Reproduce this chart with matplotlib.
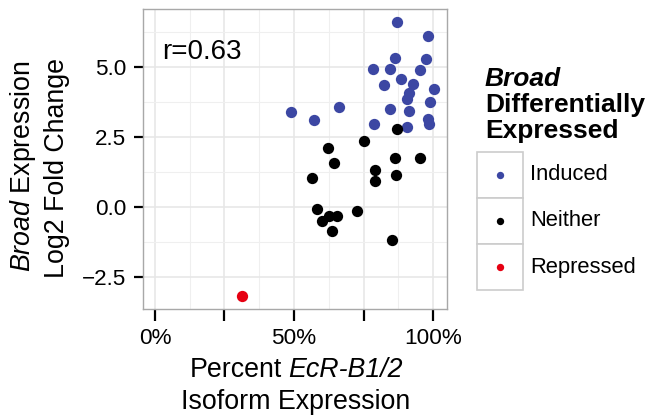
import matplotlib
matplotlib.use("Agg")
import matplotlib.pyplot as plt
from matplotlib.patches import Rectangle

plt.rcParams['font.family'] = ['Liberation Sans', 'DejaVu Sans']
plt.rcParams['mathtext.fontset'] = 'custom'
plt.rcParams['mathtext.rm'] = 'Liberation Sans'
plt.rcParams['mathtext.it'] = 'Liberation Sans:italic'
plt.rcParams['mathtext.bf'] = 'Liberation Sans:bold'

# Percent EcR-B1/2 isoform expression vs Broad log2 fold change
pct_induced = [87.1, 98.2, 86.4, 97.4, 78.5, 84.5, 95.4, 88.6, 82.4, 92.9, 100.3, 91.3,
               90.6, 98.9, 48.9, 66.1, 57.1, 84.5, 91.3, 78.7, 90.6, 98.1, 98.5]
fc_induced = [6.60, 6.12, 5.33, 5.28, 4.92, 4.93, 4.90, 4.56, 4.36, 4.40, 4.20, 4.06,
              3.86, 3.76, 3.38, 3.56, 3.10, 3.49, 3.43, 2.95, 2.86, 3.14, 2.95]

pct_neither = [86.9, 75.0, 62.1, 86.4, 95.3, 64.3, 79.2, 56.5, 86.7, 79.0, 58.3, 72.6,
               62.5, 65.6, 60.0, 63.7, 85.1]
fc_neither = [2.79, 2.34, 2.09, 1.76, 1.74, 1.56, 1.33, 1.03, 1.15, 0.94, -0.06, -0.14,
              -0.32, -0.33, -0.49, -0.87, -1.17]

pct_repressed = [31.3]
fc_repressed = [-3.17]

categories = ['Induced', 'Neither', 'Repressed']
colors = ['#3c47a3', '#000000', '#e60012']
series = [(pct_induced, fc_induced), (pct_neither, fc_neither), (pct_repressed, fc_repressed)]

x_ticks = [0, 25, 50, 75, 100]
x_ticklabels = ['0%', '', '50%', '', '100%']
y_ticks = [-2.5, 0.0, 2.5, 5.0]
y_ticklabels = ['\u22122.5', '0.0', '2.5', '5.0']
r_text = 'r=0.63'

W, H = 647, 418
fig = plt.figure(figsize=(W / 100, H / 100), dpi=100)

# overlay in pixel coordinates for labels and legend
ov = fig.add_axes([0, 0, 1, 1])
ov.set_xlim(0, W)
ov.set_ylim(H, 0)
ov.axis('off')

# main panel
left, right, top, bottom = 143, 447, 9, 309
ax = fig.add_axes([left / W, 1 - bottom / H, (right - left) / W, (bottom - top) / H])
for (xs, ys), c in zip(series, colors):
    ax.scatter(xs, ys, s=66, color=c, linewidths=0, zorder=3)

ax.set_xlim(-4.3, 105)
ax.set_ylim(-3.64, 7.07)
ax.set_xticks(x_ticks)
ax.set_xticklabels(x_ticklabels)
ax.set_yticks(y_ticks)
ax.set_yticklabels(y_ticklabels)
ax.set_xticks([12.5, 37.5, 62.5, 87.5], minor=True)
ax.set_yticks([-1.25, 1.25, 3.75, 6.25], minor=True)
ax.grid(which='major', color='#e6e6e6', linewidth=1.1, zorder=0)
ax.grid(which='minor', color='#efefef', linewidth=0.8, zorder=0)
ax.set_axisbelow(True)
ax.tick_params(axis='x', which='major', length=8.5, width=1.6, color='black',
               labelsize=16.2, pad=5)
ax.tick_params(axis='y', which='major', length=6.8, width=1.6, color='black',
               labelsize=16.2, pad=5)
ax.tick_params(which='minor', length=0)
for sp in ax.spines.values():
    sp.set_color('#a8a8a8')
    sp.set_linewidth(1.0)

ax.text(0.062, 0.857, r_text, transform=ax.transAxes, fontsize=20, va='center', ha='left')

# y label (two lines, rotated)
lab_size = 19.3
ov.text(23, 166, r'$\mathit{Broad}$ Expression', rotation=90, fontsize=lab_size,
        ha='center', va='center')
ov.text(57, 168, 'Log2 Fold Change', rotation=90, fontsize=lab_size,
        ha='center', va='center')

# x label, first line mixes roman and italic
renderer = fig.canvas.get_renderer()
t1 = ov.text(0, 370, 'Percent', fontsize=lab_size, ha='left', va='center')
t2 = ov.text(0, 370, 'EcR-B1/2', fontsize=lab_size, style='italic', ha='left', va='center')
w1 = t1.get_window_extent(renderer).width
w2 = t2.get_window_extent(renderer).width
space = 0.24 * lab_size * 100 / 72
x0 = 296 - (w1 + space + w2) / 2
t1.set_x(x0)
t2.set_x(x0 + w1 + space)
ov.text(296, 402, 'Isoform Expression', fontsize=lab_size, ha='center', va='center')

# legend
ov.text(485, 79, 'Broad', fontsize=19, fontweight='bold', style='italic', ha='left', va='center')
ov.text(485, 105, 'Differentially', fontsize=19, fontweight='bold', ha='left', va='center')
ov.text(485, 131, 'Expressed', fontsize=19, fontweight='bold', ha='left', va='center')
key_top, key_h = 152, 46
for i, (cat, c) in enumerate(zip(categories, colors)):
    y0 = key_top + i * key_h
    ov.add_patch(Rectangle((477, y0), 46, key_h, facecolor='white', edgecolor='#cccccc',
                           linewidth=1.2))
    ov.scatter([500], [y0 + key_h / 2], s=28, color=c, linewidths=0)
    ov.text(530, y0 + key_h / 2, cat, fontsize=15.8, ha='left', va='center')

fig.savefig('out.png', dpi=100)
